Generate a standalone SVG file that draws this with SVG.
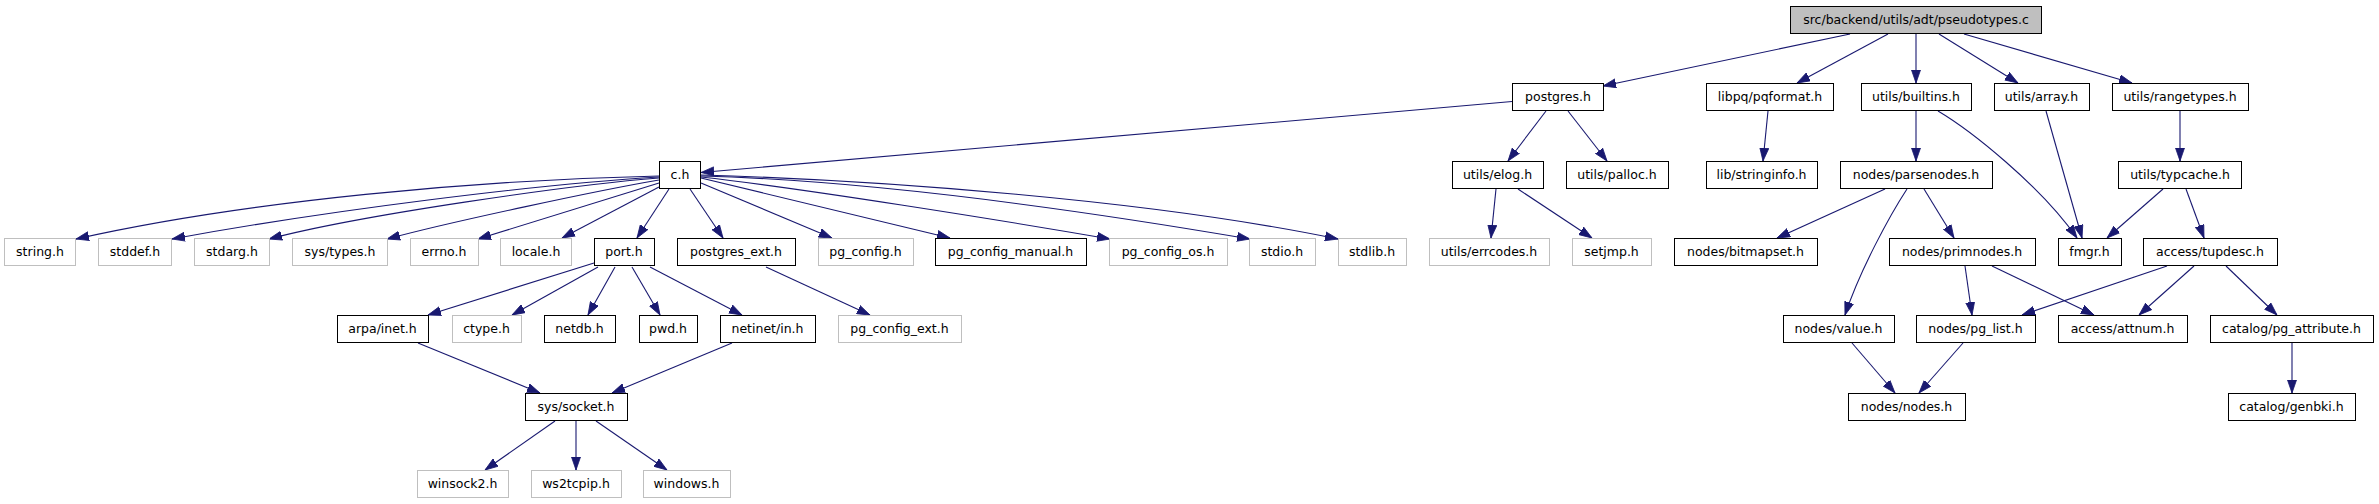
<svg xmlns="http://www.w3.org/2000/svg" width="2379" height="504" viewBox="0 0 2379 504">
<style>
rect{fill:#fff;stroke:#000;stroke-width:1}
.g rect{stroke:#bfbfbf}
.root rect{fill:#bfbfbf}
text{font-family:"DejaVu Sans","Liberation Sans",sans-serif;font-size:12.5px;text-anchor:middle;fill:#000}
#edges path{fill:none;stroke:#191970;stroke-width:1.1;marker-end:url(#a)}
</style>
<defs>
<marker id="a" viewBox="0 0 13 10" refX="13" refY="5" markerWidth="13" markerHeight="10" markerUnits="userSpaceOnUse" orient="auto">
<path d="M0,0.5 L13,5 L0,9.5 z" fill="#191970" stroke="#191970" stroke-width="0.8"/>
</marker>
</defs>
<rect x="0" y="0" width="2379" height="504" style="fill:#fff;stroke:none"/>
<g id="edges">
<path d="M1850,34 L1603,86"/>
<path d="M1888,34 L1797,83"/>
<path d="M1916,34 L1916,83"/>
<path d="M1939,34 L2018,83"/>
<path d="M1964,34 L2132,83"/>
<path d="M1512,101.5 L701,172.5"/>
<path d="M1546,111 L1508,161"/>
<path d="M1568,111 L1607,161"/>
<path d="M1768,111 L1763,161"/>
<path d="M1916,111 L1916,161"/>
<path d="M1938,111 C1970,130 2040,185 2077,238"/>
<path d="M2046,111 L2082,238"/>
<path d="M2180,111 L2180,161"/>
<path d="M2163,189 L2107,238"/>
<path d="M2186,189 L2204,238"/>
<path d="M1885,189 L1777,238"/>
<path d="M1907,189 C1890,215 1860,270 1845,315"/>
<path d="M1924,189 L1954,238"/>
<path d="M1965,266 L1972,315"/>
<path d="M1992,266 L2094,315"/>
<path d="M2167,266 L2022,315"/>
<path d="M2194,266 L2139,315"/>
<path d="M2226,266 L2277,315"/>
<path d="M1852,343 L1895,393"/>
<path d="M1963,343 L1919,393"/>
<path d="M2292,343 L2292,393"/>
<path d="M1496,189 L1491,238"/>
<path d="M1518,189 L1592,238"/>
<path d="M659,176 C480,180 250,200 76,239"/>
<path d="M659,177 C540,184 330,210 172,239"/>
<path d="M659,178 C570,185 360,215 269,239"/>
<path d="M659,180 C600,190 450,222 387,239"/>
<path d="M659,183 L478,239"/>
<path d="M659,187 L562,238"/>
<path d="M669,189 L637,238"/>
<path d="M690,189 L723,238"/>
<path d="M701,183 L832,238"/>
<path d="M701,178 L950,238"/>
<path d="M701,177 C800,188 1000,220 1110,239"/>
<path d="M701,176 C850,180 1050,205 1250,239"/>
<path d="M701,175 C880,180 1150,200 1338,239"/>
<path d="M594,263 L428,315"/>
<path d="M598,267 L512,315"/>
<path d="M615,267 L588,315"/>
<path d="M632,267 L660,315"/>
<path d="M650,267 L742,315"/>
<path d="M766,267 L870,315"/>
<path d="M418,343 L540,393"/>
<path d="M732,343 L612,393"/>
<path d="M555,421 L485,470"/>
<path d="M576,421 L576,470"/>
<path d="M596,421 L667,470"/>
</g>
<g id="n_pseudotypes" class="root"><rect x="1790.5" y="6.5" width="251" height="27"/><text x="1916" y="23.5">src/backend/utils/adt/pseudotypes.c</text></g>
<g id="n_postgres"><rect x="1512.5" y="83.5" width="91" height="27"/><text x="1558" y="100.5">postgres.h</text></g>
<g id="n_pqformat"><rect x="1706.5" y="83.5" width="127" height="27"/><text x="1770" y="100.5">libpq/pqformat.h</text></g>
<g id="n_builtins"><rect x="1861.5" y="83.5" width="110" height="27"/><text x="1916" y="100.5">utils/builtins.h</text></g>
<g id="n_array"><rect x="1994.5" y="83.5" width="95" height="27"/><text x="2041.5" y="100.5">utils/array.h</text></g>
<g id="n_rangetypes"><rect x="2112.5" y="83.5" width="136" height="27"/><text x="2180" y="100.5">utils/rangetypes.h</text></g>
<g id="n_c"><rect x="659.5" y="161.5" width="41" height="27"/><text x="680" y="178.5">c.h</text></g>
<g id="n_elog"><rect x="1452.5" y="161.5" width="91" height="27"/><text x="1497.5" y="178.5">utils/elog.h</text></g>
<g id="n_palloc"><rect x="1566.5" y="161.5" width="102" height="27"/><text x="1617" y="178.5">utils/palloc.h</text></g>
<g id="n_stringinfo"><rect x="1706.5" y="161.5" width="111" height="27"/><text x="1761.5" y="178.5">lib/stringinfo.h</text></g>
<g id="n_parsenodes"><rect x="1840.5" y="161.5" width="152" height="27"/><text x="1916" y="178.5">nodes/parsenodes.h</text></g>
<g id="n_typcache"><rect x="2118.5" y="161.5" width="123" height="27"/><text x="2180" y="178.5">utils/typcache.h</text></g>
<g id="n_string" class="g"><rect x="4.5" y="238.5" width="71" height="27"/><text x="40" y="255.5">string.h</text></g>
<g id="n_stddef" class="g"><rect x="98.5" y="238.5" width="73" height="27"/><text x="135" y="255.5">stddef.h</text></g>
<g id="n_stdarg" class="g"><rect x="194.5" y="238.5" width="75" height="27"/><text x="232" y="255.5">stdarg.h</text></g>
<g id="n_systypes" class="g"><rect x="292.5" y="238.5" width="95" height="27"/><text x="340" y="255.5">sys/types.h</text></g>
<g id="n_errno" class="g"><rect x="410.5" y="238.5" width="68" height="27"/><text x="444" y="255.5">errno.h</text></g>
<g id="n_locale" class="g"><rect x="500.5" y="238.5" width="71" height="27"/><text x="536" y="255.5">locale.h</text></g>
<g id="n_port"><rect x="594.5" y="238.5" width="60" height="27"/><text x="624" y="255.5">port.h</text></g>
<g id="n_postgres_ext"><rect x="677.5" y="238.5" width="118" height="27"/><text x="736" y="255.5">postgres_ext.h</text></g>
<g id="n_pg_config" class="g"><rect x="818.5" y="238.5" width="95" height="27"/><text x="865.5" y="255.5">pg_config.h</text></g>
<g id="n_pg_config_manual"><rect x="935.5" y="238.5" width="151" height="27"/><text x="1010.5" y="255.5">pg_config_manual.h</text></g>
<g id="n_pg_config_os" class="g"><rect x="1109.5" y="238.5" width="118" height="27"/><text x="1168" y="255.5">pg_config_os.h</text></g>
<g id="n_stdio" class="g"><rect x="1249.5" y="238.5" width="66" height="27"/><text x="1282" y="255.5">stdio.h</text></g>
<g id="n_stdlib" class="g"><rect x="1338.5" y="238.5" width="68" height="27"/><text x="1372" y="255.5">stdlib.h</text></g>
<g id="n_errcodes" class="g"><rect x="1429.5" y="238.5" width="120" height="27"/><text x="1489" y="255.5">utils/errcodes.h</text></g>
<g id="n_setjmp" class="g"><rect x="1572.5" y="238.5" width="79" height="27"/><text x="1611.5" y="255.5">setjmp.h</text></g>
<g id="n_bitmapset"><rect x="1674.5" y="238.5" width="143" height="27"/><text x="1745.5" y="255.5">nodes/bitmapset.h</text></g>
<g id="n_primnodes"><rect x="1889.5" y="238.5" width="146" height="27"/><text x="1962" y="255.5">nodes/primnodes.h</text></g>
<g id="n_fmgr"><rect x="2058.5" y="238.5" width="63" height="27"/><text x="2089.5" y="255.5">fmgr.h</text></g>
<g id="n_tupdesc"><rect x="2143.5" y="238.5" width="134" height="27"/><text x="2210" y="255.5">access/tupdesc.h</text></g>
<g id="n_arpa_inet"><rect x="337.5" y="315.5" width="91" height="27"/><text x="382.5" y="332.5">arpa/inet.h</text></g>
<g id="n_ctype" class="g"><rect x="452.5" y="315.5" width="69" height="27"/><text x="486.5" y="332.5">ctype.h</text></g>
<g id="n_netdb"><rect x="544.5" y="315.5" width="71" height="27"/><text x="579.5" y="332.5">netdb.h</text></g>
<g id="n_pwd"><rect x="639.5" y="315.5" width="58" height="27"/><text x="668" y="332.5">pwd.h</text></g>
<g id="n_netinet_in"><rect x="720.5" y="315.5" width="95" height="27"/><text x="767.5" y="332.5">netinet/in.h</text></g>
<g id="n_pg_config_ext" class="g"><rect x="838.5" y="315.5" width="123" height="27"/><text x="899.5" y="332.5">pg_config_ext.h</text></g>
<g id="n_value"><rect x="1783.5" y="315.5" width="111" height="27"/><text x="1838.5" y="332.5">nodes/value.h</text></g>
<g id="n_pg_list"><rect x="1916.5" y="315.5" width="119" height="27"/><text x="1975.5" y="332.5">nodes/pg_list.h</text></g>
<g id="n_attnum"><rect x="2058.5" y="315.5" width="129" height="27"/><text x="2122.5" y="332.5">access/attnum.h</text></g>
<g id="n_pg_attribute"><rect x="2210.5" y="315.5" width="163" height="27"/><text x="2291.5" y="332.5">catalog/pg_attribute.h</text></g>
<g id="n_sys_socket"><rect x="525.5" y="393.5" width="102" height="27"/><text x="576" y="410.5">sys/socket.h</text></g>
<g id="n_nodes"><rect x="1848.5" y="393.5" width="117" height="27"/><text x="1906.5" y="410.5">nodes/nodes.h</text></g>
<g id="n_genbki"><rect x="2228.5" y="393.5" width="127" height="27"/><text x="2291.5" y="410.5">catalog/genbki.h</text></g>
<g id="n_winsock2" class="g"><rect x="417.5" y="470.5" width="91" height="27"/><text x="462.5" y="487.5">winsock2.h</text></g>
<g id="n_ws2tcpip" class="g"><rect x="531.5" y="470.5" width="90" height="27"/><text x="576" y="487.5">ws2tcpip.h</text></g>
<g id="n_windows" class="g"><rect x="643.5" y="470.5" width="87" height="27"/><text x="686.5" y="487.5">windows.h</text></g>
</svg>
